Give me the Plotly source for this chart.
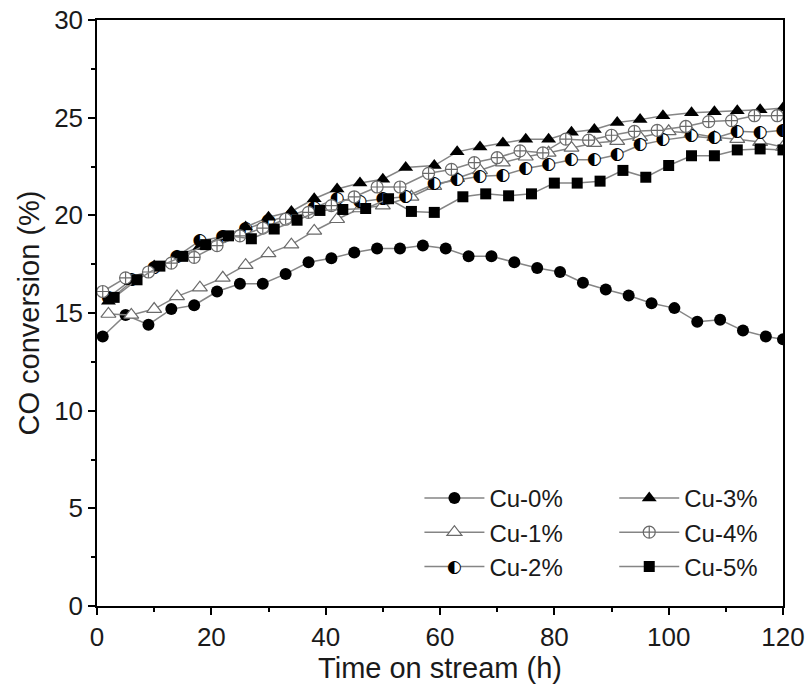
import plotly.graph_objects as go

# ---- data ----
x_cu0 = [1, 5, 9, 13, 17, 21, 25, 29, 33, 37, 41, 45, 49, 53, 57, 61, 65, 69, 73, 77, 81, 85, 89, 93, 97, 101, 105, 109, 113, 117, 120]
y_cu0 = [13.8, 14.9, 14.4, 15.2, 15.4, 16.1, 16.5, 16.5, 17.0, 17.6, 17.8, 18.1, 18.3, 18.3, 18.45, 18.3, 17.9, 17.9, 17.6, 17.3, 17.1, 16.55, 16.2, 15.9, 15.5, 15.25, 14.55, 14.65, 14.1, 13.8, 13.65]

x_cu1 = [2, 6, 10, 14, 18, 22, 26, 30, 34, 38, 42, 46, 50, 55, 59, 63, 67, 71, 75, 79, 83, 87, 91, 95, 100, 104, 108, 112, 116, 120]
y_cu1 = [14.95, 14.9, 15.2, 15.85, 16.3, 16.8, 17.45, 18.05, 18.5, 19.2, 19.8, 20.35, 20.5, 20.95, 21.5, 21.9, 22.3, 22.7, 23.0, 23.2, 23.45, 23.7, 23.8, 24.0, 24.3, 24.2, 24.0, 23.9, 23.75, 23.5]

x_cu2 = [2, 6, 10, 14, 18, 22, 26, 30, 34, 38, 42, 46, 50, 54, 59, 63, 67, 71, 75, 79, 83, 87, 91, 95, 99, 104, 108, 112, 116, 120]
y_cu2 = [15.8, 16.7, 17.3, 17.9, 18.7, 18.9, 19.3, 19.7, 20.0, 20.4, 20.85, 20.7, 20.85, 20.95, 21.6, 21.8, 22.0, 22.05, 22.4, 22.6, 22.85, 22.85, 23.1, 23.6, 23.85, 24.05, 23.95, 24.3, 24.25, 24.35]

x_cu3 = [2, 6, 10, 14, 18, 22, 26, 30, 34, 38, 42, 46, 50, 54, 59, 63, 67, 71, 75, 79, 83, 87, 91, 95, 99, 104, 108, 112, 116, 120]
y_cu3 = [15.6, 16.6, 17.4, 17.9, 18.4, 18.9, 19.4, 19.9, 20.2, 20.85, 21.35, 21.65, 21.85, 22.45, 22.55, 23.25, 23.5, 23.7, 23.9, 23.9, 24.25, 24.4, 24.75, 24.9, 25.1, 25.25, 25.3, 25.35, 25.4, 25.5]

x_cu4 = [1, 5, 9, 13, 17, 21, 25, 29, 33, 37, 41, 45, 49, 53, 58, 62, 66, 70, 74, 78, 82, 86, 90, 94, 98, 103, 107, 111, 115, 119]
y_cu4 = [16.1, 16.8, 17.1, 17.55, 17.85, 18.45, 18.95, 19.35, 19.8, 20.15, 20.5, 20.95, 21.45, 21.45, 22.15, 22.35, 22.7, 22.95, 23.3, 23.2, 23.9, 23.85, 24.1, 24.3, 24.35, 24.55, 24.8, 24.85, 25.1, 25.1]

x_cu5 = [3, 7, 11, 15, 19, 23, 27, 31, 35, 39, 43, 47, 51, 55, 59, 64, 68, 72, 76, 80, 84, 88, 92, 96, 100, 104, 108, 112, 116, 120]
y_cu5 = [15.8, 16.7, 17.4, 17.9, 18.5, 18.95, 18.8, 19.3, 19.75, 20.25, 20.3, 20.35, 20.85, 20.2, 20.15, 20.95, 21.1, 21.0, 21.1, 21.65, 21.65, 21.75, 22.3, 21.95, 22.55, 23.05, 23.05, 23.35, 23.4, 23.35]

series_names = ["Cu-0%", "Cu-1%", "Cu-2%", "Cu-3%", "Cu-4%", "Cu-5%"]
x_ticks = [0, 20, 40, 60, 80, 100, 120]
y_ticks = [0, 5, 10, 15, 20, 25, 30]

LINE = "#858585"
FONT = "Liberation Sans, Arial, sans-serif"
HALF = "\u25D0"  # circle with left half black

fig = go.Figure()

fig.add_trace(go.Scatter(x=x_cu0, y=y_cu0, name=series_names[0], mode="lines+markers",
                         line=dict(color=LINE, width=1.5),
                         marker=dict(symbol="circle", size=12, color="black", line=dict(width=0)),
                         legend="legend"))
fig.add_trace(go.Scatter(x=x_cu1, y=y_cu1, name=series_names[1], mode="lines+markers",
                         line=dict(color=LINE, width=1.5),
                         marker=dict(symbol="triangle-up", size=13, color="white",
                                     line=dict(color="#6a6a6a", width=1.2)),
                         legend="legend"))
fig.add_trace(go.Scatter(x=x_cu2, y=y_cu2, name=series_names[2], mode="lines+markers+text",
                         line=dict(color=LINE, width=1.5),
                         marker=dict(symbol="circle", size=12, color="white", line=dict(width=0)),
                         text=[HALF] * len(x_cu2), textposition="middle center",
                         textfont=dict(family="DejaVu Sans", size=17, color="black"),
                         legend="legend"))
fig.add_trace(go.Scatter(x=x_cu3, y=y_cu3, name=series_names[3], mode="lines+markers",
                         line=dict(color=LINE, width=1.5),
                         marker=dict(symbol="triangle-up", size=13, color="black", line=dict(width=0)),
                         legend="legend2"))
fig.add_trace(go.Scatter(x=x_cu4, y=y_cu4, name=series_names[4], mode="lines+markers",
                         line=dict(color=LINE, width=1.5),
                         marker=dict(symbol="circle-cross", size=12, color="white",
                                     line=dict(color="#6a6a6a", width=1.2)),
                         legend="legend2"))
fig.add_trace(go.Scatter(x=x_cu5, y=y_cu5, name=series_names[5], mode="lines+markers",
                         line=dict(color=LINE, width=1.5),
                         marker=dict(symbol="square", size=11, color="black", line=dict(width=0)),
                         legend="legend2"))

axis_common = dict(showline=True, linecolor="black", linewidth=1.5, mirror=True,
                   ticks="outside", ticklen=7, tickwidth=1.5, tickcolor="black",
                   showgrid=False, zeroline=False, automargin=False,
                   tickfont=dict(family=FONT, size=26, color="#1a1a1a"))

fig.update_xaxes(range=[0, 120], tickvals=x_ticks,
                 minor=dict(dtick=10, tick0=0, ticks="outside", ticklen=4, tickwidth=1.5, tickcolor="black"),
                 title=dict(text="Time on stream (h)", font=dict(family=FONT, size=29, color="#1a1a1a"), standoff=4),
                 **axis_common)
fig.update_yaxes(range=[0, 30], tickvals=y_ticks,
                 minor=dict(dtick=2.5, tick0=0, ticks="outside", ticklen=4, tickwidth=1.5, tickcolor="black"),
                 title=dict(text="CO conversion (%)", font=dict(family=FONT, size=29, color="#1a1a1a"), standoff=6),
                 **axis_common)

W, H = 807, 686
ML, MR, MT, MB = 97, 24, 20, 80
PW, PH = W - ML - MR, H - MT - MB

LEG1_X, LEG2_X, LEG_Y = 0.470, 0.754, 0.222
legend_common = dict(font=dict(family=FONT, size=24, color="#1a1a1a"), bgcolor="rgba(0,0,0,0)",
                     borderwidth=0, itemwidth=60, xanchor="left", yanchor="top",
                     tracegroupgap=0, orientation="v")

# legend icon for the half-filled circle (a legend symbol cannot hold this glyph)
first_row, row_h = 23.0, 34.5
icon_px_x = LEG1_X * PW + 35.5
icon_px_y = (1 - LEG_Y) * PH + first_row + 2 * row_h - 2
fig.add_annotation(xref="paper", yref="paper",
                   x=icon_px_x / PW, y=1 - icon_px_y / PH,
                   text=HALF, showarrow=False, xanchor="center", yanchor="middle",
                   font=dict(family="DejaVu Sans", size=17, color="black"))

fig.update_layout(
    width=W, height=H,
    margin=dict(l=ML, r=MR, t=MT, b=MB, autoexpand=False),
    paper_bgcolor="white", plot_bgcolor="white",
    font=dict(family=FONT),
    legend=dict(x=LEG1_X, y=LEG_Y, **legend_common),
    legend2=dict(x=LEG2_X, y=LEG_Y, **legend_common),
)

fig.write_html("out.html")
